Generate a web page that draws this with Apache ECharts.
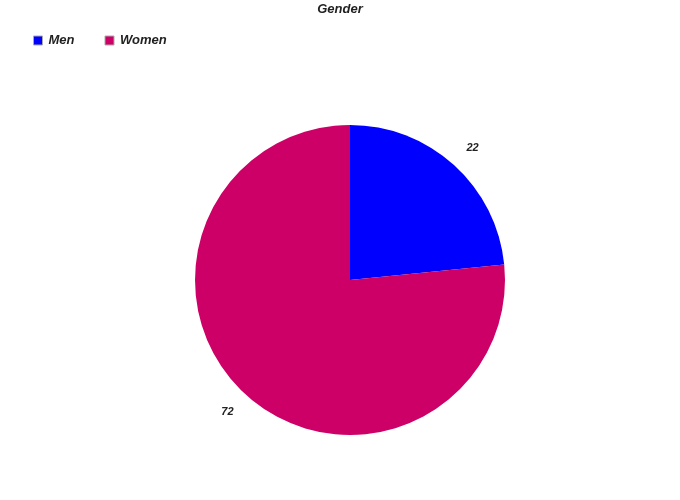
<!DOCTYPE html>
<html><head><meta charset="utf-8">
<script src="https://cdn.jsdelivr.net/npm/echarts@6/dist/echarts.min.js"></script>
<style>html,body{margin:0;padding:0;background:#fff}#c{width:680px;height:500px}</style>
</head><body><div id="c"></div>
<script>
const categories = ['Men', 'Women'];
const values = [22, 72];
const colors = ['#0000ff', '#cc0066'];

const chart = echarts.init(document.getElementById('c'));
chart.setOption({
  animation: false,
  backgroundColor: '#fff',
  title: {
    text: 'Gender', left: 'center', top: -2,
    textStyle: {fontFamily: 'Liberation Sans', fontSize: 13, fontWeight: 'bold', fontStyle: 'italic', color: '#222'}
  },
  legend: {
    left: 28, top: 29, itemWidth: 9, itemHeight: 9, itemGap: 30,
    icon: 'rect',
    itemStyle: {borderColor: '#aaa', borderWidth: 1},
    textStyle: {fontFamily: 'Liberation Sans', fontSize: 13, fontWeight: 'bold', fontStyle: 'italic', color: '#222', padding: [0,0,0,1]},
    data: categories
  },
  series: [{
    type: 'pie',
    center: [350, 280],
    radius: 155,
    startAngle: 90,
    clockwise: true,
    data: categories.map((c, i) => ({name: c, value: values[i], itemStyle: {color: colors[i]}})),
    label: {
      show: true, position: 'outside', formatter: '{c}', distanceToLabelLine: -3,
      fontFamily: 'Liberation Sans', fontSize: 11, fontWeight: 'bold', fontStyle: 'italic', color: '#222'
    },
    labelLine: {show: false, length: 23, length2: 0}
  }]
});
</script></body></html>
